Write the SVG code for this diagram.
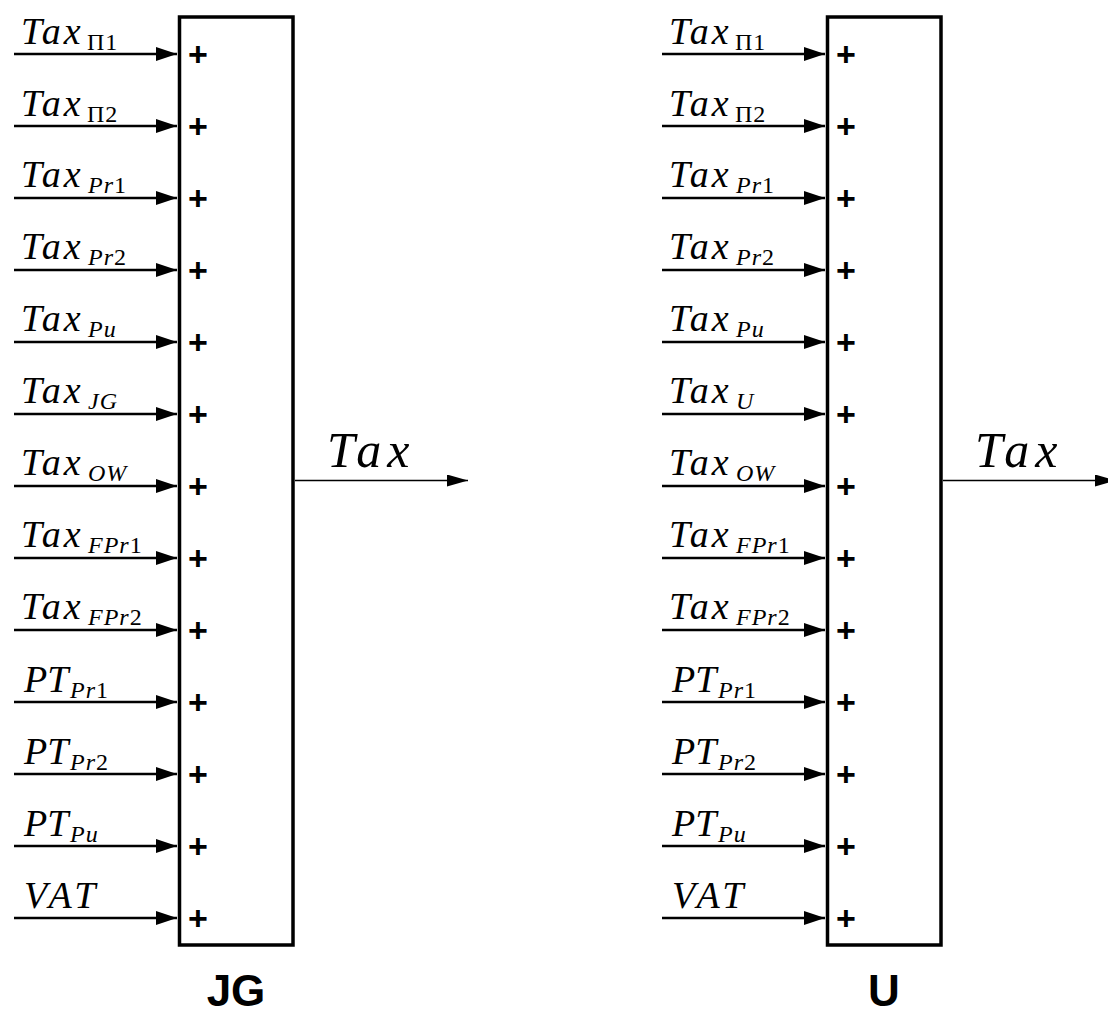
<svg xmlns="http://www.w3.org/2000/svg" width="1108" height="1016" viewBox="0 0 1108 1016">
<style>
.box{fill:#fff;stroke:#000;stroke-width:3.5}
.in{stroke:#000;stroke-width:2.5;fill:none}
.out{stroke:#000;stroke-width:1.5;fill:none}
.m{font-family:"Liberation Serif",serif;font-style:italic;font-size:38px;letter-spacing:3px}
.q{letter-spacing:0}
.v{letter-spacing:4px}
.s{font-family:"Liberation Serif",serif;font-style:italic;font-size:24px;letter-spacing:1px}
.n{font-style:normal}
.o{font-family:"Liberation Serif",serif;font-style:italic;font-size:50px;letter-spacing:6px}
.p{font-family:"Liberation Sans",Arial,sans-serif;font-weight:bold;font-size:34px;text-anchor:middle}
.t{font-family:"Liberation Sans",Arial,sans-serif;font-weight:bold;font-size:44px;text-anchor:middle}
</style>
<defs>
<marker id="ah" markerUnits="userSpaceOnUse" markerWidth="22" markerHeight="16" refX="21" refY="7" orient="auto"><path d="M0,0 L21,7 L0,14 Z" fill="#000"/></marker>
<marker id="ah2" markerUnits="userSpaceOnUse" markerWidth="22" markerHeight="14" refX="21" refY="6" orient="auto"><path d="M0,0 L21,6 L0,12 Z" fill="#000"/></marker>
</defs>
<rect width="1108" height="1016" fill="#fff"/>

<g id="node-JG">
<rect class="box" x="179.5" y="17" width="113.5" height="928"/>
<g class="p">
<text x="198" y="66">+</text><text x="198" y="138">+</text><text x="198" y="210">+</text><text x="198" y="282">+</text><text x="198" y="354">+</text><text x="198" y="426">+</text><text x="198" y="498">+</text><text x="198" y="570">+</text><text x="198" y="642">+</text><text x="198" y="714">+</text><text x="198" y="786">+</text><text x="198" y="858">+</text><text x="198" y="930">+</text>
</g>
<text class="t" x="236" y="1006">JG</text>
</g>

<g id="node-U">
<rect class="box" x="827.5" y="17" width="113.5" height="928"/>
<g class="p">
<text x="846" y="66">+</text><text x="846" y="138">+</text><text x="846" y="210">+</text><text x="846" y="282">+</text><text x="846" y="354">+</text><text x="846" y="426">+</text><text x="846" y="498">+</text><text x="846" y="570">+</text><text x="846" y="642">+</text><text x="846" y="714">+</text><text x="846" y="786">+</text><text x="846" y="858">+</text><text x="846" y="930">+</text>
</g>
<text class="t" x="884" y="1006">U</text>
</g>

<g id="connectors">
<g id="inputs-JG">
<line class="in" x1="14" y1="54" x2="177" y2="54" marker-end="url(#ah)"/>
<line class="in" x1="14" y1="126" x2="177" y2="126" marker-end="url(#ah)"/>
<line class="in" x1="14" y1="198" x2="177" y2="198" marker-end="url(#ah)"/>
<line class="in" x1="14" y1="270" x2="177" y2="270" marker-end="url(#ah)"/>
<line class="in" x1="14" y1="342" x2="177" y2="342" marker-end="url(#ah)"/>
<line class="in" x1="14" y1="414" x2="177" y2="414" marker-end="url(#ah)"/>
<line class="in" x1="14" y1="486" x2="177" y2="486" marker-end="url(#ah)"/>
<line class="in" x1="14" y1="558" x2="177" y2="558" marker-end="url(#ah)"/>
<line class="in" x1="14" y1="630" x2="177" y2="630" marker-end="url(#ah)"/>
<line class="in" x1="14" y1="702" x2="177" y2="702" marker-end="url(#ah)"/>
<line class="in" x1="14" y1="774" x2="177" y2="774" marker-end="url(#ah)"/>
<line class="in" x1="14" y1="846" x2="177" y2="846" marker-end="url(#ah)"/>
<line class="in" x1="14" y1="918" x2="177" y2="918" marker-end="url(#ah)"/>
<text class="m" x="21" y="44">Tax</text><text class="s" x="87" y="50"><tspan class="n">Π1</tspan></text>
<text class="m" x="21" y="116">Tax</text><text class="s" x="87" y="122"><tspan class="n">Π2</tspan></text>
<text class="m" x="21" y="187">Tax</text><text class="s" x="88" y="193">Pr<tspan class="n">1</tspan></text>
<text class="m" x="21" y="259">Tax</text><text class="s" x="88" y="265">Pr<tspan class="n">2</tspan></text>
<text class="m" x="21" y="331">Tax</text><text class="s" x="88" y="337">Pu</text>
<text class="m" x="21" y="403">Tax</text><text class="s" x="88" y="409">JG</text>
<text class="m" x="21" y="475">Tax</text><text class="s" x="88" y="481">OW</text>
<text class="m" x="21" y="547">Tax</text><text class="s" x="88" y="553">FPr<tspan class="n">1</tspan></text>
<text class="m" x="21" y="619">Tax</text><text class="s" x="88" y="625">FPr<tspan class="n">2</tspan></text>
<text class="m q" x="24" y="692">PT</text><text class="s" x="70" y="698">Pr<tspan class="n">1</tspan></text>
<text class="m q" x="24" y="764">PT</text><text class="s" x="70" y="770">Pr<tspan class="n">2</tspan></text>
<text class="m q" x="24" y="836">PT</text><text class="s" x="70" y="842">Pu</text>
<text class="m v" x="24" y="908">VAT</text>
</g>
<g id="inputs-U">
<line class="in" x1="662" y1="54" x2="825" y2="54" marker-end="url(#ah)"/>
<line class="in" x1="662" y1="126" x2="825" y2="126" marker-end="url(#ah)"/>
<line class="in" x1="662" y1="198" x2="825" y2="198" marker-end="url(#ah)"/>
<line class="in" x1="662" y1="270" x2="825" y2="270" marker-end="url(#ah)"/>
<line class="in" x1="662" y1="342" x2="825" y2="342" marker-end="url(#ah)"/>
<line class="in" x1="662" y1="414" x2="825" y2="414" marker-end="url(#ah)"/>
<line class="in" x1="662" y1="486" x2="825" y2="486" marker-end="url(#ah)"/>
<line class="in" x1="662" y1="558" x2="825" y2="558" marker-end="url(#ah)"/>
<line class="in" x1="662" y1="630" x2="825" y2="630" marker-end="url(#ah)"/>
<line class="in" x1="662" y1="702" x2="825" y2="702" marker-end="url(#ah)"/>
<line class="in" x1="662" y1="774" x2="825" y2="774" marker-end="url(#ah)"/>
<line class="in" x1="662" y1="846" x2="825" y2="846" marker-end="url(#ah)"/>
<line class="in" x1="662" y1="918" x2="825" y2="918" marker-end="url(#ah)"/>
<text class="m" x="669" y="44">Tax</text><text class="s" x="735" y="50"><tspan class="n">Π1</tspan></text>
<text class="m" x="669" y="116">Tax</text><text class="s" x="735" y="122"><tspan class="n">Π2</tspan></text>
<text class="m" x="669" y="187">Tax</text><text class="s" x="736" y="193">Pr<tspan class="n">1</tspan></text>
<text class="m" x="669" y="259">Tax</text><text class="s" x="736" y="265">Pr<tspan class="n">2</tspan></text>
<text class="m" x="669" y="331">Tax</text><text class="s" x="736" y="337">Pu</text>
<text class="m" x="669" y="403">Tax</text><text class="s" x="736" y="409">U</text>
<text class="m" x="669" y="475">Tax</text><text class="s" x="736" y="481">OW</text>
<text class="m" x="669" y="547">Tax</text><text class="s" x="736" y="553">FPr<tspan class="n">1</tspan></text>
<text class="m" x="669" y="619">Tax</text><text class="s" x="736" y="625">FPr<tspan class="n">2</tspan></text>
<text class="m q" x="672" y="692">PT</text><text class="s" x="718" y="698">Pr<tspan class="n">1</tspan></text>
<text class="m q" x="672" y="764">PT</text><text class="s" x="718" y="770">Pr<tspan class="n">2</tspan></text>
<text class="m q" x="672" y="836">PT</text><text class="s" x="718" y="842">Pu</text>
<text class="m v" x="672" y="908">VAT</text>
</g>
<g id="outputs">
<line class="out" x1="295" y1="480.5" x2="468" y2="480.5" marker-end="url(#ah2)"/>
<text class="o" x="327" y="467">Tax</text>
<line class="out" x1="943" y1="480.5" x2="1116" y2="480.5" marker-end="url(#ah2)"/>
<text class="o" x="975" y="467">Tax</text>
</g>
</g>
</svg>
